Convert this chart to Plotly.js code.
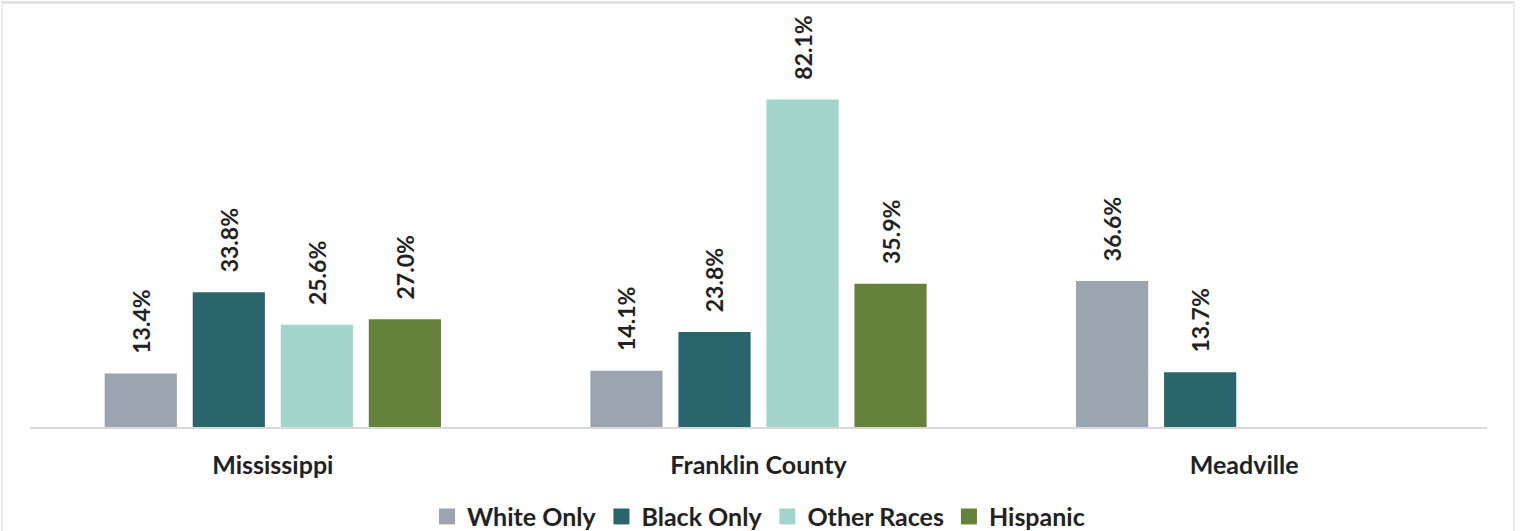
<!DOCTYPE html>
<html>
<head>
<meta charset="utf-8">
<script src="https://cdn.plot.ly/plotly-3.0.1.min.js"></script>
<style>
  html, body { margin: 0; padding: 0; background: #fff; }
  #wrap { position: relative; width: 1520px; height: 531px; overflow: hidden; }
  #chart { width: 1520px; height: 531px; }
  #frame { position: absolute; left: 1px; top: 1px; width: 1510px; height: 540px;
           border-top: 3px solid #e2e2e2; border-left: 2px solid #ececec; border-right: 2px solid #ececec;
           pointer-events: none; }
</style>
</head>
<body>
<div id="wrap">
  <div id="chart"></div>
  <div id="frame"></div>
</div>
<script>
const categories = ["Mississippi", "Franklin County", "Meadville"];
const seriesNames = ["White Only", "Black Only", "Other Races", "Hispanic"];
const whiteOnly = [13.4, 14.1, 36.6];
const blackOnly = [33.8, 23.8, 13.7];
const otherRaces = [25.6, 82.1, null];
const hispanic = [27.0, 35.9, null];
const colors = ["#9BA5AF", "#29666C", "#A2D4CC", "#66813A"];

const values = [whiteOnly, blackOnly, otherRaces, hispanic];
const FONT = "Lato, 'Open Sans', sans-serif";

const traces = [];
values.forEach((vals, i) => {
  traces.push({
    type: "bar",
    name: seriesNames[i],
    x: categories,
    y: vals,
    marker: { color: colors[i] },
    text: vals.map(v => v == null ? "" : "\u00a0\u00a0\u00a0" + v.toFixed(1) + "%"),
    textposition: "outside",
    textangle: -90,
    constraintext: "none",
    cliponaxis: false,
    textfont: { family: FONT, size: 23, color: "#222222", weight: 700 },
    showlegend: false,
    hoverinfo: "skip"
  });
});
// legend entries (larger square swatches)
seriesNames.forEach((n, i) => {
  traces.push({
    type: "scatter",
    mode: "markers",
    name: n,
    x: [null],
    y: [null],
    marker: { symbol: "square", size: 16, color: colors[i] },
    showlegend: true,
    hoverinfo: "skip"
  });
});

const layout = {
  width: 1520,
  height: 531,
  paper_bgcolor: "#ffffff",
  plot_bgcolor: "#ffffff",
  margin: { l: 30, r: 33, t: 20, b: 104 },
  barmode: "group",
  bargap: 0.275,
  bargroupgap: 0.18,
  font: { family: FONT, color: "#222222" },
  xaxis: {
    type: "category",
    categoryorder: "array",
    categoryarray: categories,
    showline: true,
    linecolor: "#d9d9d9",
    linewidth: 2,
    showgrid: false,
    zeroline: false,
    ticks: "",
    ticklabelstandoff: 15,
    tickfont: { family: FONT, size: 25, color: "#222222", weight: 700 },
    fixedrange: true
  },
  yaxis: {
    range: [0, 102],
    showgrid: false,
    zeroline: false,
    showline: false,
    showticklabels: false,
    ticks: "",
    fixedrange: true
  },
  showlegend: true,
  legend: {
    orientation: "h",
    x: 0.5,
    xanchor: "center",
    yref: "container",
    y: 0.027,
    yanchor: "middle",
    font: { family: FONT, size: 25, color: "#222222", weight: 700 },
    itemwidth: 30,
    tracegroupgap: 0
  }
};

Plotly.newPlot("chart", traces, layout, { displayModeBar: false, staticPlot: true });
</script>
</body>
</html>
